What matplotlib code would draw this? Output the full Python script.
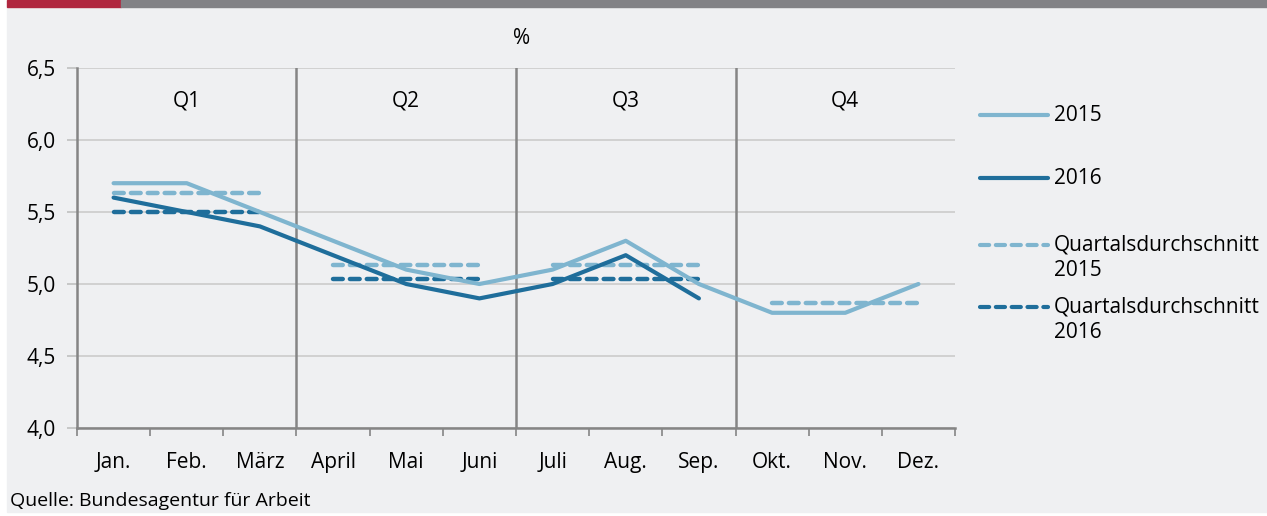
import matplotlib.pyplot as plt
from matplotlib.patches import Rectangle
from matplotlib.lines import Line2D

plt.rcParams['font.family'] = ['Open Sans', 'DejaVu Sans']

months = ["Jan.", "Feb.", "März", "April", "Mai", "Juni",
          "Juli", "Aug.", "Sep.", "Okt.", "Nov.", "Dez."]
quarters = ["Q1", "Q2", "Q3", "Q4"]

rate_2015 = [5.7, 5.7, 5.5, 5.3, 5.1, 5.0, 5.1, 5.3, 5.0, 4.8, 4.8, 5.0]
rate_2016 = [5.6, 5.5, 5.4, 5.2, 5.0, 4.9, 5.0, 5.2, 4.9]
qavg_2015 = [5.633, 5.133, 5.133, 4.867]
qavg_2016 = [5.5, 5.033, 5.033]

light = "#7fb5cf"
dark = "#1f6e9b"
bg = "#eff0f2"
gray = "#858585"
fs = 15

W, H = 1267, 516
fig = plt.figure(figsize=(W / 100, H / 100), dpi=100)
fig.patch.set_facecolor("white")

# panel background and top bar
fig.add_artist(Rectangle((7 / W, 4 / H), 1 - 7 / W, 1 - 11 / H,
                         transform=fig.transFigure, color=bg, zorder=-10))
fig.add_artist(Rectangle((7 / W, 1 - 7 / H), 114 / W, 7 / H,
                         transform=fig.transFigure, color="#b0263f", zorder=-5))
fig.add_artist(Rectangle((121 / W, 1 - 7 / H), 1 - 121 / W, 7 / H,
                         transform=fig.transFigure, color="#828286", zorder=-5))

ax = fig.add_axes([77 / W, 1 - 428 / H, 878 / W, 360 / H])
ax.set_facecolor("none")

x = list(range(len(months)))
ax.plot(x, rate_2015, color=light, lw=3, solid_capstyle="round", zorder=3)
ax.plot(x[:len(rate_2016)], rate_2016, color=dark, lw=3,
        solid_capstyle="round", zorder=4)

for i, v in enumerate(qavg_2015):
    ax.plot([3 * i, 3 * i + 2], [v, v], color=light, lw=3.2,
            ls=(0, (2.2, 1.6)), dash_capstyle="round", zorder=2)
for i, v in enumerate(qavg_2016):
    ax.plot([3 * i, 3 * i + 2], [v, v], color=dark, lw=3.2,
            ls=(0, (2.2, 1.6)), dash_capstyle="round", zorder=2)

for b in [2.5, 5.5, 8.5]:
    ax.axvline(b, color=gray, lw=1.8, zorder=1)
for i, q in enumerate(quarters):
    ax.text(3 * i + 1, 6.27, q, ha="center", va="center", fontsize=fs)

ax.set_xlim(-0.5, 11.5)
ax.set_ylim(4.0, 6.5)
ax.set_yticks([4.0, 4.5, 5.0, 5.5, 6.0, 6.5])
ax.set_yticklabels(["4,0", "4,5", "5,0", "5,5", "6,0", "6,5"], fontsize=fs)
ax.yaxis.grid(True, color="#cbcbcb", lw=1.2)
ax.set_axisbelow(True)

ax.set_xticks(x)
ax.set_xticklabels(months, fontsize=fs)
ax.set_xticks([i - 0.5 for i in range(13)], minor=True)
ax.tick_params(axis="x", which="major", length=0, pad=17)
ax.tick_params(axis="x", which="minor", length=6, color=gray, width=1.2)
ax.tick_params(axis="y", length=7, color="#c0c0c0", width=1.2, pad=8)

for s in ["top", "right"]:
    ax.spines[s].set_visible(False)
ax.spines["left"].set_color(gray)
ax.spines["left"].set_linewidth(1.8)
ax.spines["bottom"].set_color(gray)
ax.spines["bottom"].set_linewidth(1.8)

fig.text(522 / W, 1 - 38 / H, "%", ha="center", va="center", fontsize=fs)
fig.text(10 / W, 1 - 501 / H, "Quelle: Bundesagentur für Arbeit",
         ha="left", va="center", fontsize=14)

# legend
entries = [(light, "-", "2015", 115), (dark, "-", "2016", 178),
           (light, (0, (2.2, 1.6)), "Quartalsdurchschnitt\n2015", 245),
           (dark, (0, (2.2, 1.6)), "Quartalsdurchschnitt\n2016", 307)]
for c, ls, lab, yp in entries:
    fig.add_artist(Line2D([980 / W, 1048 / W], [1 - yp / H, 1 - yp / H],
                          color=c, lw=3, ls=ls, solid_capstyle="round",
                          dash_capstyle="round", transform=fig.transFigure))
    fig.text(1054 / W, 1 - (yp - 10) / H, lab, ha="left", va="top",
             fontsize=fs, linespacing=1.28)

fig.savefig("out.png", dpi=100, facecolor=fig.get_facecolor())
